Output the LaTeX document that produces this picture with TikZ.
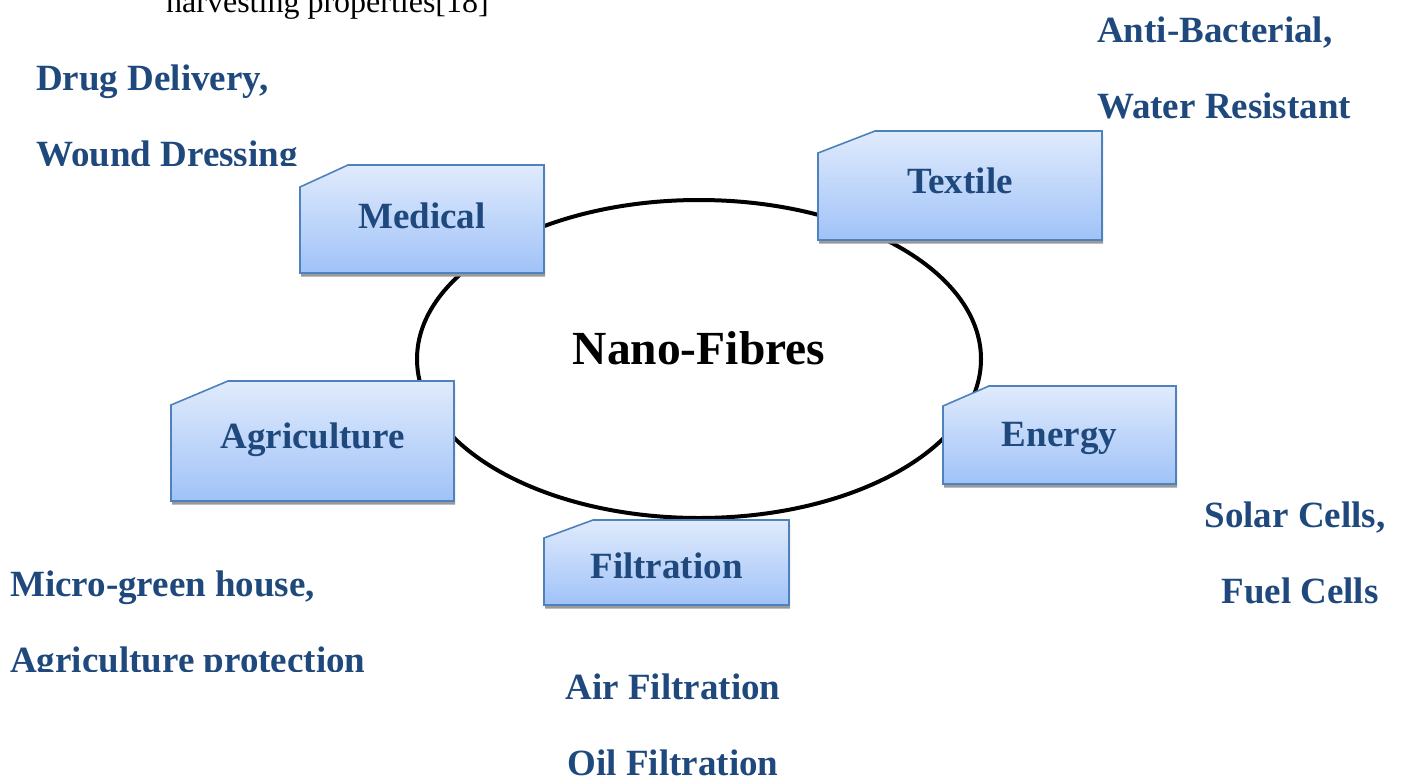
\documentclass[tikz,border=0pt]{standalone}
\usepackage{fontspec}
\setmainfont{Liberation Serif}
\usetikzlibrary{shapes.geometric,shadows}

\definecolor{tagtop}{RGB}{224,235,252}
\definecolor{tagbottom}{RGB}{160,194,248}
\definecolor{tagedge}{RGB}{79,129,189}
\definecolor{tagtext}{RGB}{31,73,125}

\tikzset{
  tagshape/.style={draw=tagedge, line width=1.6pt, line join=miter,
    top color=tagtop, bottom color=tagbottom,
    drop shadow={shadow xshift=1pt, shadow yshift=-3.5pt, fill=black!40, opacity=1}},
  taglabel/.style={text=tagtext, inner sep=0pt, anchor=base,
    font=\fontsize{37}{44}\selectfont\bfseries},
  note/.style={text=tagtext, inner sep=0pt,
    font=\fontsize{37}{44}\selectfont\bfseries},
  hub/.style={draw=black, line width=4pt, ellipse, inner sep=0pt,
    minimum width=564pt, minimum height=318pt},
  hubtext/.style={inner sep=0pt, anchor=base,
    font=\fontsize{47.5}{56}\selectfont\bfseries},
  bodytext/.style={inner sep=0pt, anchor=base west,
    font=\fontsize{32}{38}\selectfont}
}

% chamfered tag: name, left, top, right, bottom, cut dx, cut dy, baseline, text
\newcommand\tagbox[9]{%
  \path[tagshape] (#2,#5) -- (#2,{#3+#7}) -- ({#2+#6},#3) -- (#4,#3) -- (#4,#5) -- cycle;
  \node[taglabel] (#1) at ({(#2+#4)/2},#8) {#9};
}

\begin{document}
\begin{tikzpicture}[x=1pt,y=-1pt]
\useasboundingbox (0,0) rectangle (1403,777);

% running text cut off by the page top
\begin{scope}
  \clip (0,0) rectangle (1403,777);
  \node[bodytext] (runon) at (166,12) {harvesting properties[18]};
\end{scope}

% central ring
\node[hub] (ring) at (699,359) {};
\node[hubtext] (ringtext) at (699,364) {Nano-Fibres};

% application tags
\tagbox{medical}{300}{165}{544}{273}{48}{22}{228}{Medical}
\tagbox{textile}{818}{131}{1102}{240}{57}{22}{193}{Textile}
\tagbox{agri}{171}{381}{454}{501}{57}{24}{448}{Agriculture}
\tagbox{energy}{943}{386}{1176}{484}{46}{20}{446}{Energy}
\tagbox{filter}{544}{520}{789}{605}{49}{18}{578}{Filtration}

% uses of each application
\node[note, anchor=base west] (drug) at (36,90) {Drug Delivery,};
\begin{scope}
  \clip (0,120) rectangle (400,165);
  \node[note, anchor=base west] (wound) at (36,166) {Wound Dressing};
\end{scope}

\node[note, anchor=base west] (anti) at (1097,42) {Anti-Bacterial,};
\node[note, anchor=base west] (water) at (1097,118) {Water Resistant};

\node[note, anchor=base west] (micro) at (10,596) {Micro-green house,};
\begin{scope}
  \clip (0,630) rectangle (420,671);
  \node[note, anchor=base west] (protect) at (10,672) {Agriculture protection};
\end{scope}

\node[note, anchor=base] (solar) at (1295,527) {Solar Cells,};
\node[note, anchor=base] (fuel) at (1300,603) {Fuel Cells};

\node[note, anchor=base] (air) at (673,699) {Air Filtration};
\node[note, anchor=base] (oil) at (673,775) {Oil Filtration};
\end{tikzpicture}
\end{document}
